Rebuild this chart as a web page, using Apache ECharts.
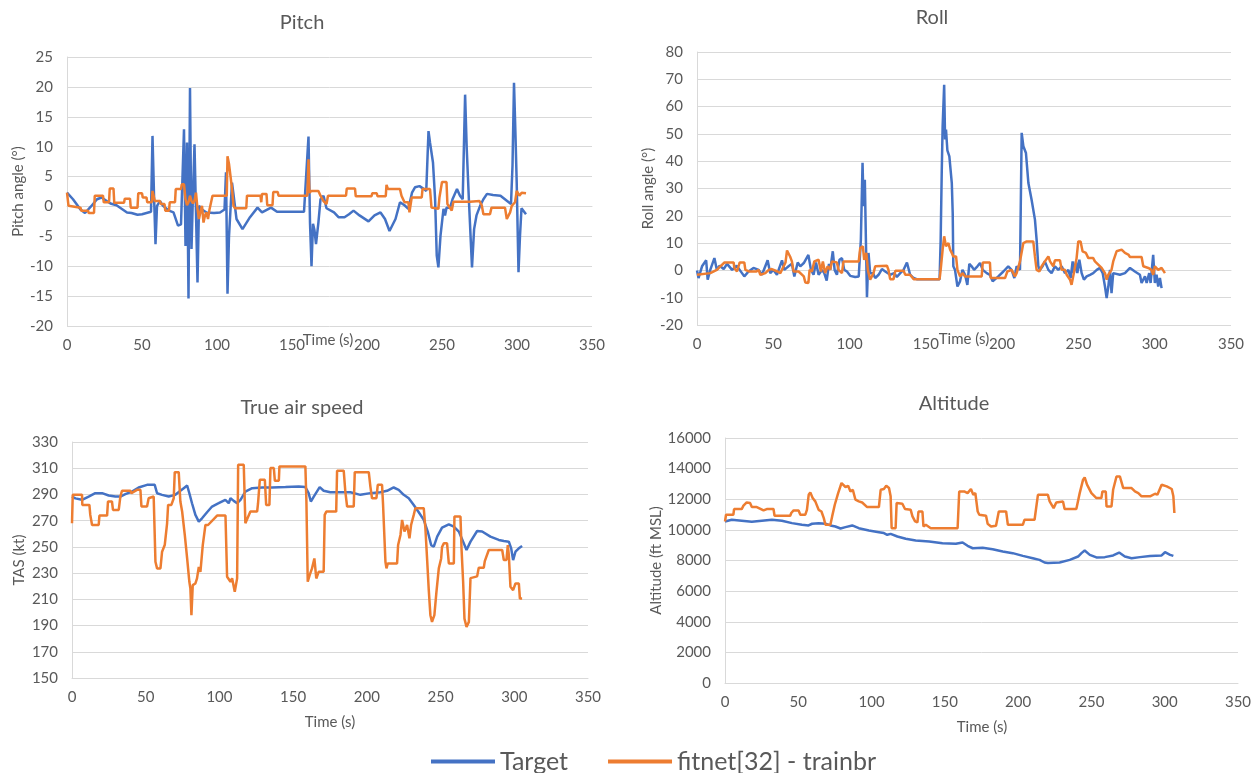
<!DOCTYPE html>
<html>
<head>
<meta charset="utf-8">
<script src="https://cdn.jsdelivr.net/npm/echarts@6/dist/echarts.min.js"></script>
<style>
html,body{margin:0;padding:0;background:#fff;}
#c{width:1257px;height:773px;}
</style>
</head>
<body>
<div id="c"></div>
<script>
// ---------- DATA ----------
const seriesNames = ['Target', 'fitnet[32] - trainbr'];
const panelTitles = ['Pitch', 'Roll', 'True air speed', 'Altitude'];
const yAxisTitles = ['Pitch angle (°)', 'Roll angle (°)', 'TAS (kt)', 'Altitude (ft MSL)'];
const xAxisTitle = 'Time (s)';
const xTicks = [0, 350, 50];
const pitchTicks = [-20, 25, 5];
const rollTicks = [-20, 80, 10];
const tasTicks = [150, 330, 20];
const altTicks = [0, 16000, 2000];

const pitchTarget = [[0,2.3],[4,1.2],[9,-0.5],[12,-1.1],[16,0],[20,1.2],[23,1.5],[29,0.5],[33,0.2],[40,-1.0],[43,-1.1],[47,-1.4],[50,-1.3],[56,-0.9],[57,11.8],[58,2],[59,-6.3],[60,0.1],[62,0.9],[64,0.1],[68,-0.7],[71,-1.0],[74,-3.2],[76,-3.0],[77,-2.7],[78,12.9],[79,-6.6],[80,10.7],[81,-15.4],[82,19.8],[83,-7.1],[84,2.3],[85,10.4],[87,-12.7],[88,0.1],[90,-0.5],[93,-1.0],[98,-1.1],[102,-1.0],[105,-0.5],[106,5.7],[107,-14.6],[108,-5],[110,4],[111,2],[113,-2.1],[117,-3.8],[122,-1.8],[127,-0.2],[130,-1.0],[136,-0.2],[140,-0.9],[158,-0.9],[161,11.7],[162,-2.7],[163,-10],[164,-2.9],[165,-4],[166,-6.3],[167.6,-2.7],[169,1.2],[171,1.8],[173,-0.3],[178,-1.0],[181,-1.8],[185,-1.8],[188,-1.3],[191,-0.7],[195,-1.5],[201,-2.5],[205,-1.5],[209,-1.0],[212,-2.1],[215,-4.1],[219,-2.1],[222,0.7],[225,0.2],[227.6,-0.4],[230,2.3],[232,3.2],[235,3.4],[238,2.9],[239.5,2.6],[241,12.6],[242,10.7],[244,7.3],[245.4,1.2],[246.5,-8.2],[247.6,-10.2],[249,-4.9],[251,-0.4],[252,-1.5],[253,-0.2],[255.4,-0.2],[257,1.2],[260,2.9],[262,1.8],[263.8,1.2],[265.4,18.7],[266.5,9.6],[268,0.7],[270,-10.2],[271.4,-3.8],[273,-1.5],[275.4,0.1],[277.6,1.2],[280,2.1],[284,1.9],[289,1.8],[293,1.0],[296,0.4],[297,6.8],[298,20.7],[299,11.8],[299.8,4],[301,-11],[302,-4.9],[303,-0.3],[304.3,-0.2],[306,-1.3]];
const pitchFit = [[0,2.3],[1,0.1],[2,-0.2],[9,-0.2],[9.5,-0.7],[14,-0.7],[14.5,-1.1],[18,-1.1],[18.5,1.8],[24,1.8],[24.5,0.7],[28,0.7],[28.5,3.0],[31,3.0],[31.5,0.6],[38,0.6],[38.5,1.3],[42,1.3],[42.5,-0.2],[47,-0.2],[47.5,2.2],[50,2.2],[50.5,1.5],[53,1.5],[53.5,0.7],[56.5,0.7],[57,2.6],[58,2.6],[58.5,0.9],[62,0.9],[62.5,0.4],[65,0.4],[65.5,-0.7],[68,-0.7],[68.5,0.7],[72,0.7],[72.5,2.9],[76,2.9],[76.5,3.7],[78,3.7],[79,1.2],[80,0.2],[81,0.7],[82,1.8],[83,0.9],[84,0.5],[85,1.0],[86,2.3],[87,-0.4],[88,-2.1],[89,-0.8],[90,0.1],[91,-2.7],[92,-1.5],[93,-1.0],[94,-2.1],[95,-0.5],[96,-0.4],[97,1.8],[106.5,1.8],[107,8.4],[108,7.1],[109,7.1],[110,3],[111,0.1],[112,-0.3],[119.5,-0.3],[120,1.8],[129,1.8],[129.5,0.7],[130,2.1],[133,2.1],[133.5,0.2],[137,0.2],[137.5,2.4],[140.5,2.4],[141,1.8],[160.2,1.8],[161,7.9],[161.6,2.3],[163,2.6],[167.6,2.6],[169,1.8],[171,0.9],[173,0.4],[174,1.8],[186,1.8],[186.5,3.0],[192,3.0],[192.5,1.7],[203,1.7],[203.5,2.2],[206.5,2.2],[207,1.7],[212.5,1.7],[213,3.6],[214,2.9],[222,2.9],[223,1.8],[225,0.7],[227.6,0.7],[228.3,-1.0],[229.8,1.5],[236.5,1.5],[237,2.9],[242,2.9],[243,-0.2],[247.6,-0.4],[248.3,1.5],[250,4.1],[253,4.1],[253.6,0.4],[256.5,-0.7],[257.6,0.8],[268.7,0.8],[275,0.9],[276.5,0.2],[277.6,-1.3],[282,-1.3],[283,-0.2],[292,-0.2],[293.2,-2.1],[295.4,-1.0],[296.5,0.1],[298.7,0.7],[299.8,2.6],[301.6,1.8],[303.1,2.3],[306,2.2]];

const rollTarget = [[0,0],[1,-2.8],[3.3,1.5],[6,3.7],[7,-3.4],[8.7,0.2],[11.4,4.5],[13,0.2],[14.8,1.7],[17.5,0.5],[19.7,2.4],[23,0.2],[26,1.7],[29.5,-1.0],[31,-2.2],[33.8,-0.4],[37,0.9],[40.4,0.2],[42.6,-1.6],[46.3,3.7],[48,-1.0],[50,0.2],[52.4,-1.6],[55.7,3.7],[57.2,0.2],[60,1.5],[62.2,2.4],[63.8,-2.2],[66,2.9],[67.7,1.5],[70,2.7],[73,5.7],[74.7,0.2],[76.4,-1.6],[78,2.9],[79.7,-1.6],[82,0.2],[83.4,-1.0],[85,-3.7],[86.5,2.4],[87.3,0.2],[89,7],[90.2,0.2],[91.7,-1.6],[93.4,3.9],[95,4.5],[96.5,0.2],[98.3,-0.4],[100.4,-2.0],[103.7,-2.4],[106,-2.2],[107.4,11.2],[108.5,39.4],[109.2,23.5],[110,33.2],[110.7,11.2],[111.4,-9.8],[112.4,6.4],[113.5,-1.0],[115.3,-1.0],[116.8,-2.8],[119,-1.6],[121.2,0.5],[123.4,-0.4],[126.6,-1.6],[129.3,-1.0],[131,-2.4],[133.2,-1.0],[135.4,0.2],[137.6,2.9],[139.7,-1.6],[142,-2.8],[144,-3.2],[159,-3.2],[159.7,11],[160.4,35.7],[161,52.8],[162,68],[162.6,48],[163.2,51.6],[164.1,44],[165.4,41.8],[167,32],[167.6,21],[168,1.5],[169.1,0.2],[170.7,-5.9],[172.4,-4.0],[174,0.2],[175.7,-1.6],[177.2,-5.3],[178.5,2.4],[180,1.5],[181.6,0.2],[183.8,1.5],[185.5,2.7],[187.3,0.2],[189.9,-1.0],[192,-1.6],[193.8,-4.0],[197.5,-2.2],[200.8,-0.4],[204,1.5],[206.2,0.2],[208,-2.8],[209.5,1.5],[211.7,0.2],[212.8,50.4],[213.9,45.5],[215.6,43],[217.2,32],[219.3,25.9],[221.5,18.6],[222.6,11.2],[223.7,1.5],[224.8,0.2],[226.5,1.5],[228,3.3],[230.3,0.2],[232.4,-1.0],[234.6,1.5],[236.8,0.2],[239,1.5],[241.2,-1.0],[243.4,0.2],[244.9,-2.8],[246.2,3.3],[247,-1.0],[248.4,3.3],[249.3,-1.0],[250.6,3.9],[252.1,-1.0],[253.6,-3.4],[255.4,-2.2],[257.6,-1.6],[259.7,-1.0],[262,0.2],[264.1,0.9],[265.9,-1.0],[267.4,-5.9],[268.5,-10.1],[269.6,-5.9],[270.7,0.2],[271.7,-8.3],[272.8,-1.0],[273.9,-1.6],[277.2,-1.6],[280.5,-1.0],[283.8,0.9],[287,-0.4],[290.3,-1.6],[291.4,-4.6],[293.6,-2.2],[294.7,-4.6],[296.4,-1.0],[297.3,-4.6],[299,5.7],[300.1,-4.6],[301.2,-1.6],[302.3,-5.9],[303.4,-2.8],[304.5,-6.5]];
const rollFit = [[0,-1.6],[8.7,-1.0],[13,0.2],[15.3,1.5],[18,2.9],[24,2.9],[24.5,0.9],[26.2,-0.4],[28,2.9],[31,2.9],[31.7,0.2],[34,-0.4],[39,-0.4],[40.4,0.2],[41.5,-1.6],[44.8,-1.0],[47,0.2],[49,0.5],[52.8,-0.4],[54.6,-1.0],[58,2.9],[59,7.3],[61,5.1],[62.2,3.3],[63.3,-0.4],[66.6,-0.4],[70,-2.2],[71,-4.4],[73,-4.6],[73.8,0.2],[75.3,-0.4],[76.9,3.3],[79.7,3.9],[81.2,-0.4],[82.5,3.3],[84,-1.0],[85.6,1.5],[87.3,0.2],[88.4,3.3],[91.7,2.9],[92.8,0.2],[95,-1.0],[96,3.3],[106,3.3],[107,8.2],[108.7,8.8],[109.6,3.9],[111,6.4],[112,0.2],[113.5,-3.4],[114.6,-4.0],[115.7,-1.0],[116.8,1.5],[118,1.7],[124.5,1.7],[125.5,0.2],[126.6,-3.2],[128.8,-3.2],[130,-0.1],[135.4,-0.1],[136.5,-1.6],[139.7,-1.6],[142,-3.2],[159,-3.2],[159.7,0.2],[161,7.6],[162,12.5],[163.2,8.8],[164.8,10],[165.9,7.6],[167,6.4],[168,5.1],[169.8,5.1],[170.7,0.2],[172.4,-2.2],[174,-1.0],[175.7,-2.2],[186.6,-2.2],[187.3,2.9],[192,2.9],[192.5,-2.8],[201.9,-2.8],[203.4,-0.4],[206.2,0.2],[208.4,-2.2],[209.5,-1.0],[211.7,3.3],[213.9,10],[216.1,10.6],[220.4,10.6],[221.5,5.1],[222.6,0.2],[224.4,-0.4],[225.9,1.5],[228,3.3],[230.3,5.1],[231.4,3.3],[233.5,1.5],[234.6,3.7],[237.9,3.7],[239,0.2],[241.2,0.2],[242.3,-1.6],[244.5,-3.4],[245.5,-5.3],[247,-1.0],[248.8,4.5],[249.9,10.6],[251.4,10.6],[252.7,7],[254.9,6.4],[256.5,4.5],[259.7,4.5],[260.8,3.3],[263,2.1],[265.2,0.9],[267.4,-1.0],[268.5,-3.4],[269.6,-1.6],[271.7,0.2],[272.8,3.3],[275,7],[278.3,7.6],[280.5,6.4],[282.7,5.8],[283.8,4.9],[291.4,4.9],[292.5,1.5],[295.8,0.9],[297.9,0.2],[299,-1.6],[300.1,1.5],[302.3,0.2],[304.5,0.9],[306.7,-1]];

const tasTarget = [[0,288.4],[2.3,287],[6.8,285.9],[11.3,288.4],[15.8,291],[20.4,291],[24.9,289.2],[29.4,288.4],[32.8,288.4],[36.2,290.2],[40.7,292.2],[45.2,295.3],[50.9,297.3],[56.1,297.3],[57.7,290.9],[61.1,289.7],[65.6,288.4],[70.1,289.7],[73.5,292.8],[75.8,294.8],[78.1,296.8],[79.6,290.9],[81.4,283.3],[83.7,274.4],[86,269.3],[88.2,271.8],[91.6,276.4],[95,280.8],[99.5,283.3],[104,285.9],[106.3,283.3],[107.5,287.1],[109.7,285.1],[112,283.3],[114.3,285.9],[117.6,292.2],[122.2,294.8],[129,295.3],[135.7,295.3],[144.8,295.6],[153.8,296],[158.3,295.6],[160.5,291],[162,284.6],[164,288.4],[168,295.6],[170.7,292.8],[175.2,291.7],[182,291.7],[188.8,291.7],[195.6,289.7],[202.4,291],[209.2,291.7],[213.7,292.8],[218.2,295.3],[221.6,293.5],[225,289.7],[228.4,287.1],[231.8,282],[235.2,276.4],[238.6,270.6],[241.3,261.7],[243.6,251.4],[245.4,250.2],[247.7,257.8],[251,264.7],[255.6,267.2],[259,265.4],[262.4,261.7],[265.3,254],[267.6,247.6],[270.3,254],[274.8,262.1],[278.2,261.7],[283.8,257.8],[289.5,255.3],[292.9,254.5],[296.3,254],[297.9,248.9],[299.2,239.9],[300.8,246.3],[303.1,248.9],[305.3,250.7]];
const tasFit = [[0,268],[0.5,289.7],[6.8,289.7],[7,282],[11.8,282],[12.4,274.4],[13.6,266.7],[18.1,266.7],[18.6,273.9],[23.8,273.9],[24.4,284.6],[27.1,284.6],[27.8,278.2],[31.7,278.2],[32.8,288.4],[33.9,292.8],[39.6,292.8],[40.3,291],[44.1,293.5],[46.4,293.5],[47.1,280.8],[50.9,280.8],[52,287.1],[55.4,288.4],[56.6,238.7],[57.7,233.6],[60,233.6],[61.1,246.3],[62.9,251.4],[64.5,268],[65.2,282],[67.4,282],[69,287.1],[69.7,307],[72.4,307],[73.5,284.6],[74.7,277],[76.5,259.1],[78.1,241.2],[79.6,223.4],[80.3,218.3],[81,197.9],[81.9,220.8],[83.7,222.1],[84.8,226],[86,234.8],[87.1,231],[88.7,251.4],[90.5,266.7],[91.6,265.4],[92.3,266.7],[98.4,273.9],[104.1,273.9],[105.2,227.2],[107.5,223.4],[108.6,226],[110.4,215.7],[112,226],[112.7,312.7],[116.5,312.7],[117.6,268],[118.8,266.7],[121,277],[125.6,277],[126.2,283.3],[127.4,301.2],[130.8,301.2],[131.7,282],[133.9,282],[134.6,310.1],[136.9,310.1],[137.6,300.4],[140.3,300.4],[140.7,311.4],[158.3,311.4],[159,284.6],[159.9,223.4],[161.2,228.5],[162.8,233.6],[164.4,241.2],[165.7,225.9],[167.3,231],[170.7,231],[171.4,274.4],[172.5,276.9],[179.2,276.9],[179.8,308.1],[184.3,308.1],[185.4,292.2],[186.6,280.8],[191.1,280.8],[191.8,307],[201.3,307],[202.4,296],[203.5,287.1],[206.5,287.1],[207.4,297.3],[210.3,297.3],[211,282],[212.6,238.7],[213.3,233.6],[214.2,237.4],[220.5,237.4],[221.2,251.4],[222.8,259.1],[223.9,270.6],[225.5,261.7],[227.3,266.7],[228.9,256.5],[230,266.7],[231.8,274.4],[232.9,279.5],[238.6,279.5],[239.7,264.2],[240.9,239.9],[242,217],[243.1,197.9],[244.2,192.8],[245.8,197.9],[247.2,215.7],[248.8,233.6],[250.4,241.2],[251,249.9],[252.2,252.7],[254.4,252.7],[255.6,237.4],[259,237.4],[259.4,273.1],[263.5,273.1],[264.2,248.9],[265.3,223.4],[266.2,195.3],[267.6,188.9],[269.2,192.8],[270.3,226.2],[271.4,227.5],[274.8,227.5],[275.9,234.1],[279.3,234.1],[280,239.1],[282.7,247.6],[291.8,247.6],[292.9,240],[294.7,240],[295.6,251.4],[296.3,243.7],[297.4,219.6],[299.2,217],[300.8,222.1],[303.1,222.1],[303.8,210.6],[305.3,210.6]];

const altTarget = [[0,10550],[4.6,10660],[11.4,10600],[18.3,10530],[25.1,10600],[32,10660],[38.8,10600],[45.7,10440],[52.5,10330],[57,10290],[59.4,10400],[63.9,10440],[68.5,10400],[71.9,10290],[75.3,10220],[78.8,10090],[82.2,10180],[86.8,10290],[91.3,10110],[98.2,9960],[105,9850],[108.4,9790],[110.7,9680],[113,9740],[117.6,9570],[123.3,9420],[130.1,9310],[139.3,9240],[148.4,9130],[157.5,9090],[162.1,9180],[165.5,8960],[169,8800],[175.8,8830],[182.6,8740],[189.5,8590],[196.3,8480],[203.2,8300],[210,8150],[214.6,8040],[218,7870],[220.3,7830],[228.3,7870],[235.2,8040],[240.9,8260],[243.2,8480],[245.4,8650],[248.9,8370],[253.4,8200],[259.1,8220],[264.8,8330],[268.9,8520],[272.8,8260],[277.4,8150],[283.1,8220],[290,8300],[297.9,8330],[300.2,8540],[303.7,8370],[305.9,8300]];
const altFit = [[0,10550],[0.7,10990],[5.7,10990],[6.2,11360],[11.4,11360],[12.6,11580],[14.8,11790],[17.1,11750],[18.3,11490],[21.7,11490],[22.8,11360],[26.3,11270],[28.5,11360],[33.1,11360],[33.8,10920],[44.5,10920],[45.2,11100],[46.8,11270],[50.2,11270],[51.4,10990],[54.8,10990],[55.9,11310],[57.1,12290],[58.2,12450],[59.8,12080],[61.6,11860],[63.9,11310],[65.8,11200],[67.4,10770],[68.5,10330],[71.9,10330],[73.1,10880],[74.9,11640],[77.2,12400],[79.5,13060],[80.6,13170],[82.2,12800],[84,12880],[85.6,12510],[87.2,12620],[89,11970],[91.3,11860],[93.6,11790],[97,11490],[105,11490],[106.2,12620],[108.4,12670],[110,12880],[111.9,12730],[113,12190],[113.7,10110],[116.4,10110],[117.1,11750],[121,11710],[122.8,11360],[126.7,11310],[127.9,10880],[129.7,10550],[131.3,10490],[132,11200],[134.7,11200],[135.4,10220],[137,10330],[140.4,10110],[158.7,10110],[159.8,12510],[163.2,12510],[165.5,12400],[167.8,12670],[169.4,12300],[170.8,12400],[172.4,11200],[173.5,10990],[178.1,10920],[179.2,10400],[181.5,10220],[184.9,10270],[186.8,11200],[191.8,11200],[193,10330],[203.2,10330],[204.3,10660],[211.2,10660],[213.5,12290],[220.3,12290],[221.5,11860],[224.2,11420],[226,11790],[230.6,11860],[231.7,11360],[239.7,11360],[242,12400],[244.3,13280],[245.4,13430],[247,12950],[250,12400],[253.4,12080],[256.8,12080],[257.5,12510],[259.8,12510],[260.3,11530],[263.7,11530],[264.8,12620],[267.1,13490],[269.4,13490],[271.7,12730],[277.4,12730],[279.7,12510],[282,12400],[284.2,12190],[290,12190],[293.4,12360],[295,12300],[297.9,12950],[299.1,13060],[301.4,12840],[304.8,12670],[305.9,12190],[306.6,11100]];

// ---------- STYLE / LAYOUT ----------
const FONT = 'Lato, "Liberation Sans", sans-serif';
const TXT = '#595959';
const GRIDC = '#D9D9D9';
const BLUE = '#4472C4';
const ORANGE = '#ED7D31';

const grids = [
  {left: 67, top: 57, width: 525, height: 269},
  {left: 697, top: 52, width: 534, height: 273},
  {left: 72, top: 442, width: 516, height: 236},
  {left: 725, top: 438, width: 513, height: 245}
];
const yRanges = [pitchTicks, rollTicks, tasTicks, altTicks];
const yNameGaps = [40, 41, 45, 61];
const titlePos = [[302, 23], [932, 18], [302, 408], [954, 404]];
const xTitlePos = [[328, 340], [964, 339], [330, 722], [982, 727]];
const dataSets = [[pitchTarget, pitchFit], [rollTarget, rollFit], [tasTarget, tasFit], [altTarget, altFit]];

const xAxes = grids.map((g, i) => ({
  type: 'value', gridIndex: i, min: xTicks[0], max: xTicks[1], interval: xTicks[2],
  axisLine: {show: true, onZero: true, lineStyle: {color: GRIDC, width: 1}},
  axisTick: {show: false},
  splitLine: {show: false},
  axisLabel: {color: TXT, fontSize: 15, fontFamily: FONT, margin: 12}
}));
const yAxes = grids.map((g, i) => ({
  type: 'value', gridIndex: i, min: yRanges[i][0], max: yRanges[i][1], interval: yRanges[i][2],
  name: yAxisTitles[i], nameLocation: 'middle', nameGap: yNameGaps[i], nameRotate: 90,
  nameTextStyle: {color: TXT, fontSize: 15, fontFamily: FONT},
  axisLine: {show: true, lineStyle: {color: GRIDC, width: 1}},
  axisTick: {show: false},
  splitLine: {show: true, lineStyle: {color: GRIDC, width: 1}},
  axisLabel: {color: TXT, fontSize: 15, fontFamily: FONT, margin: 14, formatter: v => String(v)}
}));

const series = [];
dataSets.forEach((pair, i) => {
  pair.forEach((d, k) => {
    const col = k === 0 ? BLUE : ORANGE;
    series.push({
      type: 'line', name: seriesNames[k], xAxisIndex: i, yAxisIndex: i,
      data: d, symbol: 'none', showSymbol: false, smooth: false,
      lineStyle: {color: col, width: 2.5}, itemStyle: {color: col},
      z: 2 + k, animation: false
    });
  });
});

const graphics = [];
panelTitles.forEach((t, i) => {
  graphics.push({type: 'text', x: titlePos[i][0], y: titlePos[i][1], silent: true,
    style: {text: t, fill: TXT, font: '20px ' + FONT, align: 'center', verticalAlign: 'middle'}});
  graphics.push({type: 'text', x: xTitlePos[i][0], y: xTitlePos[i][1], silent: true,
    style: {text: xAxisTitle, fill: TXT, font: '15px ' + FONT, align: 'center', verticalAlign: 'middle'}});
});

const chart = echarts.init(document.getElementById('c'), null, {renderer: 'canvas'});
chart.setOption({
  backgroundColor: '#ffffff',
  animation: false,
  textStyle: {fontFamily: FONT},
  grid: grids,
  xAxis: xAxes,
  yAxis: yAxes,
  legend: {
    data: seriesNames, left: 426, top: 744, icon: 'rect', itemWidth: 64, itemHeight: 4, itemGap: 40,
    textStyle: {color: TXT, fontSize: 25, fontFamily: FONT}
  },
  graphic: graphics,
  series: series
});
</script>
</body>
</html>
